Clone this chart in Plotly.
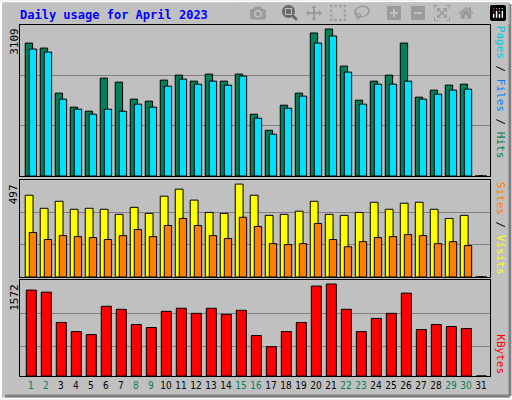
import plotly.graph_objects as go

days = list(range(1, 32))
weekend = [1, 2, 8, 9, 15, 16, 22, 23, 29, 30]

hits = [2737, 2634, 1706, 1417, 1334, 2015, 1933, 1582, 1541, 1974, 2077, 1953, 2098, 1953, 2098,
        1272, 942, 1458, 1706, 2944, 3026, 2263, 1561, 1953, 2077, 2737, 1623, 1768, 1871, 1891, 0]
files = [2614, 2552, 1582, 1376, 1272, 1376, 1334, 1479, 1417, 1850, 1995, 1891, 1953, 1871, 2057,
         1190, 860, 1396, 1644, 2737, 2882, 2139, 1479, 1891, 1891, 1953, 1582, 1685, 1768, 1788, 0]
visits = [419, 352, 388, 347, 352, 347, 321, 357, 326, 414, 450, 394, 331, 326, 476,
          419, 316, 321, 337, 388, 321, 316, 331, 383, 347, 378, 383, 347, 300, 316, 0]
sites = [228, 192, 212, 207, 202, 192, 212, 243, 207, 264, 300, 264, 212, 197, 306,
         259, 171, 166, 171, 274, 192, 155, 181, 202, 207, 217, 212, 171, 181, 161, 0]
kbytes = [1407, 1373, 877, 728, 678, 1142, 1092, 844, 794, 1059, 1109, 1026, 1109, 1009, 1076,
          662, 480, 728, 877, 1473, 1506, 1092, 728, 943, 1026, 1357, 761, 844, 811, 778, 0]

ticktext = [f"<span style='color:#00805c'>{d}</span>" if d in weekend else str(d) for d in days]
outline = dict(color="black", width=1)

fig = go.Figure()
fig.add_bar(x=days, y=hits, offset=-0.38, width=0.49, marker=dict(color="#00805c", line=outline),
            xaxis="x", yaxis="y")
fig.add_bar(x=days, y=files, offset=-0.11, width=0.49, marker=dict(color="#00e0ff", line=outline),
            xaxis="x", yaxis="y")
fig.add_bar(x=days, y=visits, offset=-0.38, width=0.52, marker=dict(color="#ffff00", line=outline),
            xaxis="x2", yaxis="y2")
fig.add_bar(x=days, y=sites, offset=-0.11, width=0.49, marker=dict(color="#ff8000", line=outline),
            xaxis="x2", yaxis="y2")
fig.add_bar(x=days, y=kbytes, offset=-0.31, width=0.67, marker=dict(color="#ff0000", line=outline),
            xaxis="x3", yaxis="y3")

xr = [0.27, 31.6]
common_x = dict(range=xr, showgrid=False, zeroline=False, showline=True, linecolor="black",
                mirror=True, fixedrange=True)
common_y = dict(showticklabels=False, ticks="", gridcolor="#808080", gridwidth=1, zeroline=False,
                showline=True, linecolor="black", mirror=True)

fig.update_layout(
    width=512, height=400, margin=dict(l=0, r=0, t=0, b=0),
    paper_bgcolor="#c0c0c0", plot_bgcolor="#c0c0c0", showlegend=False, barmode="overlay",
    font=dict(family="DejaVu Sans Mono", size=11, color="black"),
    xaxis=dict(common_x, domain=[0.039, 0.957], anchor="y", showticklabels=False),
    xaxis2=dict(common_x, domain=[0.039, 0.957], anchor="y2", showticklabels=False),
    xaxis3=dict(common_x, domain=[0.039, 0.957], anchor="y3", tickmode="array",
                tickvals=days, ticktext=ticktext, ticks="", tickangle=0, ticklen=0,
                tickfont=dict(size=10, family="DejaVu Sans Condensed")),
    yaxis=dict(common_y, domain=[0.56, 0.9375], range=[0, 3109], tickvals=[1036, 2073]),
    yaxis2=dict(common_y, domain=[0.3075, 0.55], range=[0, 497], tickvals=[166, 331]),
    yaxis3=dict(common_y, domain=[0.06, 0.30], range=[0, 1572], tickvals=[480, 1026]),
    shapes=[
        dict(type="rect", xref="paper", yref="paper", x0=0.002, y0=0.003, x1=0.998, y1=0.997,
             line=dict(color="white", width=2)),
        dict(type="line", xref="paper", yref="paper", x0=0.01, y0=0.01, x1=0.996, y1=0.01,
             line=dict(color="#808080", width=3)),
        dict(type="line", xref="paper", yref="paper", x0=0.996, y0=0.01, x1=0.996, y1=0.99,
             line=dict(color="#808080", width=3)),
    ],
    annotations=[
        dict(text="<b>Daily usage for April 2023</b>", xref="paper", yref="paper", x=0.035, y=0.985,
             xanchor="left", yanchor="top", showarrow=False, font=dict(color="#0000ff", size=12)),
        dict(text="3109", xref="paper", yref="paper", x=0.028, y=0.935, xanchor="center", yanchor="top",
             textangle=-90, showarrow=False),
        dict(text="497", xref="paper", yref="paper", x=0.028, y=0.545, xanchor="center", yanchor="top",
             textangle=-90, showarrow=False),
        dict(text="1572", xref="paper", yref="paper", x=0.028, y=0.295, xanchor="center", yanchor="top",
             textangle=-90, showarrow=False),
        dict(text="<span style='color:#00c8e0'>Pages</span> / <span style='color:#0080ff'>Files</span>"
                  " / <span style='color:#00805c'>Hits</span>",
             xref="paper", yref="paper", x=0.978, y=0.94, xanchor="center", yanchor="top",
             textangle=90, showarrow=False),
        dict(text="<span style='color:#ff8000'>Sites</span> / <span style='color:#ffff00'>Visits</span>",
             xref="paper", yref="paper", x=0.978, y=0.55, xanchor="center", yanchor="top",
             textangle=90, showarrow=False),
        dict(text="<span style='color:#ff0000'>KBytes</span>", xref="paper", yref="paper", x=0.978,
             y=0.06, xanchor="center", yanchor="bottom", textangle=90, showarrow=False),
    ],
)

fig.write_html("out.html", post_script="document.body.style.margin='0';")
